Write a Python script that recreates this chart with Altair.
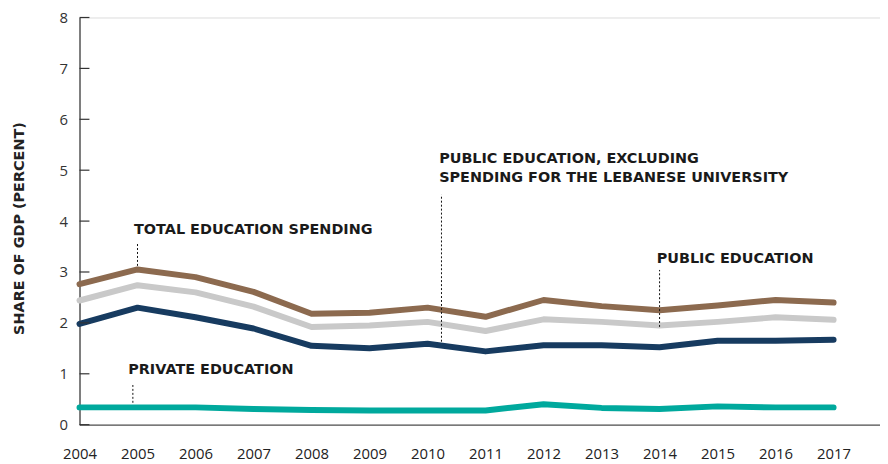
import altair as alt
import pandas as pd

years = [2004, 2005, 2006, 2007, 2008, 2009, 2010, 2011, 2012, 2013, 2014, 2015, 2016, 2017]
total = [2.76, 3.05, 2.90, 2.61, 2.18, 2.20, 2.30, 2.12, 2.45, 2.33, 2.25, 2.34, 2.45, 2.40]
public = [2.44, 2.74, 2.60, 2.32, 1.92, 1.95, 2.02, 1.84, 2.07, 2.02, 1.95, 2.02, 2.11, 2.06]
public_excl = [1.98, 2.30, 2.11, 1.89, 1.55, 1.50, 1.59, 1.44, 1.56, 1.56, 1.52, 1.65, 1.65, 1.67]
private = [0.34, 0.34, 0.34, 0.31, 0.29, 0.28, 0.28, 0.28, 0.40, 0.33, 0.31, 0.36, 0.34, 0.34]

series_names = ["Private education", "Public education, excluding LU", "Public education", "Total education spending"]
series_colors = ["#00A99D", "#173B60", "#C9C9C9", "#8C6A4F"]

y_ticks = [0, 1, 2, 3, 4, 5, 6, 7, 8]

# annotation texts and anchor positions (data units)
ann_text = ["TOTAL EDUCATION SPENDING", "PRIVATE EDUCATION",
            "PUBLIC EDUCATION, EXCLUDING", "SPENDING FOR THE LEBANESE UNIVERSITY",
            "PUBLIC EDUCATION"]
ann_x = [2004.94, 2004.84, 2010.2, 2010.2, 2013.95]
ann_y = [3.75, 1.0, 5.14, 4.76, 3.17]

lead_x = [2005.0, 2004.92, 2010.24, 2014.0]
lead_y1 = [3.12, 0.43, 1.63, 1.92]
lead_y2 = [3.55, 0.78, 4.52, 3.04]

rows = []
for name, vals in zip(series_names, [private, public_excl, public, total]):
    for yr, v in zip(years, vals):
        rows.append({"year": yr, "value": v, "series": name})
df = pd.DataFrame(rows)

ann_df = pd.DataFrame({"x": ann_x, "y": ann_y, "text": ann_text})
lead_df = pd.DataFrame({"x": lead_x, "y1": lead_y1, "y2": lead_y2})
tick_df = pd.DataFrame({"t": y_ticks})

FONT = "Open Sans"
BOLD_FONT = "DejaVu Sans"

xscale = alt.Scale(domain=[2004, 2017.8], nice=False, zero=False)
yscale = alt.Scale(domain=[0, 8], nice=False)

lines = alt.Chart(df).mark_line(strokeWidth=6, strokeCap="round", strokeJoin="round").encode(
    x=alt.X("year:Q", scale=xscale,
            axis=alt.Axis(values=years, format="d", title=None, ticks=False, tickSize=0,
                          labelPadding=22, labelFontSize=15, labelColor="#222", labelFont=FONT,
                          labelFlush=False, labelOverlap=False,
                          domainColor="#555", domainWidth=1.2, grid=False)),
    y=alt.Y("value:Q", scale=yscale,
            axis=alt.Axis(values=y_ticks, title="SHARE OF GDP (PERCENT)", ticks=False, tickSize=0,
                          labelPadding=12, labelFontSize=15, labelColor="#333", labelFont=FONT,
                          labelFlush=False,
                          domainColor="#333", domainWidth=1.2, grid=False,
                          titleFont=BOLD_FONT, titleFontSize=14.5, titleFontWeight="bold", titleColor="#222",
                          titleAngle=270, titleX=-60, titleY=212, titleAlign="center",
                          titleBaseline="middle")),
    color=alt.Color("series:N", scale=alt.Scale(domain=series_names, range=series_colors), legend=None),
    order=alt.Order("year:Q"),
)

ticks = alt.Chart(tick_df).mark_rule(color="#333", strokeWidth=1.2).encode(
    y=alt.Y("t:Q", scale=yscale),
    x=alt.value(0),
    x2=alt.value(10),
)

leads = alt.Chart(lead_df).mark_rule(color="#111", strokeWidth=1, strokeDash=[2, 2]).encode(
    x=alt.X("x:Q", scale=xscale),
    y=alt.Y("y1:Q", scale=yscale),
    y2="y2:Q",
)

texts = alt.Chart(ann_df).mark_text(align="left", baseline="alphabetic", font=BOLD_FONT, fontSize=14.5,
                                    fontWeight="bold", color="#1a1a1a").encode(
    x=alt.X("x:Q", scale=xscale),
    y=alt.Y("y:Q", scale=yscale),
    text="text:N",
)

chart = alt.layer(lines, ticks, leads, texts).properties(
    width=806, height=410,
    autosize=alt.AutoSizeParams(type="none"),
    padding={"left": 72, "top": 8, "right": 0, "bottom": 36},
).configure_view(stroke=None).configure(background="white")

chart.save("out.html", embed_options={"renderer": "svg", "actions": False})
